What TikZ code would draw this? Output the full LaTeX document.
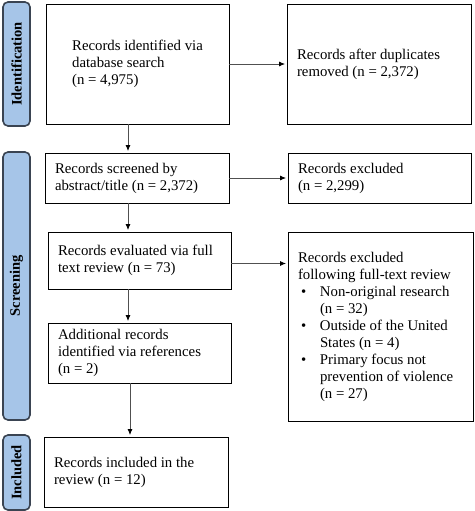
\documentclass[tikz,border=0pt]{standalone}
\usepackage{fontspec}
\setmainfont{Liberation Serif}
\usetikzlibrary{arrows.meta}
\definecolor{sidefill}{HTML}{A6C5E8}
\definecolor{sidedraw}{HTML}{3A4452}
\definecolor{arrgray}{HTML}{505050}
\tikzset{
  box/.style={draw=black, line width=0.9pt, rectangle, inner ysep=0pt, inner xsep=10pt,
    align=flush left, font=\fontsize{14.8}{17}\selectfont},
  side/.style={draw=sidedraw, fill=sidefill, line width=1.6pt, rounded corners=5pt, rectangle,
    minimum width=27pt, inner sep=0pt},
  sidelabel/.style={rotate=90, font=\fontsize{14.5}{17}\selectfont\bfseries, text=black},
  arr/.style={draw=arrgray, line width=0.8pt, -{Latex[length=6pt,width=5pt,color=black]}, shorten >=1.5pt}
}
\begin{document}
\begin{tikzpicture}[x=1pt,y=-1pt]
\useasboundingbox (0,0) rectangle (474,511);
% side bars
\node[side, minimum height=124pt] (sid) at (16.5,64) {};
\node[sidelabel] (lid) at (sid.center) {Identification};
\node[side, minimum height=268pt] (sscr) at (16.5,286) {};
\node[sidelabel] (lscr) at (sscr.center) {Screening};
\node[side, minimum height=75pt] (sinc) at (16.5,472.5) {};
\node[sidelabel] (linc) at (sinc.center) {Included};
% boxes
\node[box, minimum width=183pt, minimum height=120pt, inner xsep=0pt, align=left] (b1) at (137.5,64)
  {Records identified via\\database search\\(n = 4,975)};
\node[box, minimum width=184pt, minimum height=120pt, text width=164pt] (b2) at (379,64)
  {Records after duplicates\\removed (n = 2,372)};
\node[box, minimum width=184pt, minimum height=50pt, text width=164pt] (scr) at (137,178)
  {Records screened by\\abstract/title (n = 2,372)};
\node[box, minimum width=183pt, minimum height=50pt, text width=163pt] (ex1) at (379.5,178)
  {Records excluded\\(n = 2,299)};
\node[box, minimum width=183pt, minimum height=57pt, text width=163pt] (ev) at (139.5,260.5)
  {Records evaluated via full\\text review (n = 73)};
\node[box, minimum width=185pt, minimum height=189pt, text width=165pt] (ex2) at (380.5,326.5)
  {Records excluded\\following full-text review\\
   \makebox[22pt][l]{\hspace{3pt}\textbullet}Non-original research\\
   \hspace*{22pt}(n = 32)\\
   \makebox[22pt][l]{\hspace{3pt}\textbullet}Outside of the United\\
   \hspace*{22pt}States (n = 4)\\
   \makebox[22pt][l]{\hspace{3pt}\textbullet}Primary focus not\\
   \hspace*{22pt}prevention of violence\\
   \hspace*{22pt}(n = 27)};
\node[box, minimum width=183pt, minimum height=60pt, text width=163pt] (add) at (139.5,353)
  {Additional records\\identified via references\\(n = 2)};
\node[box, minimum width=184pt, minimum height=70pt, text width=164pt] (inc) at (136,472)
  {Records included in the\\review (n = 12)};
% column coordinates
\coordinate (xa) at (128,0);
\coordinate (xb) at (130,0);
% arrows
\draw[arr] (b1.east) -- (b2.west);
\draw[arr] (scr.east) -- (ex1.west);
\draw[arr] ([yshift=-3pt]ev.east) -- ([yshift=-3pt]ev.east -| ex2.west);
\draw[arr] (b1.south -| xa) -- (scr.north -| xa);
\draw[arr] (scr.south -| xa) -- (ev.north -| xa);
\draw[arr] (ev.south -| xa) -- (add.north -| xa);
\draw[arr] (add.south -| xb) -- (inc.north -| xb);
\end{tikzpicture}
\end{document}
